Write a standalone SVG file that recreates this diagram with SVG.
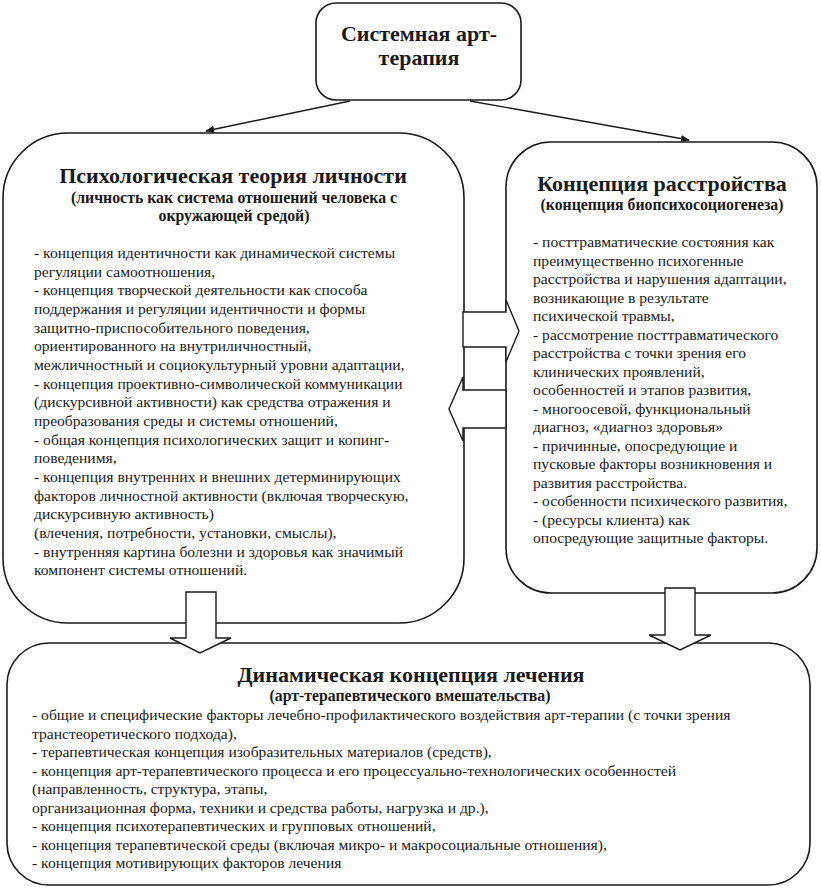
<svg xmlns="http://www.w3.org/2000/svg" width="821" height="892" viewBox="0 0 821 892">
<style>
.box{fill:#fff;stroke:#1a1a1a;stroke-width:1.6}
.blk{fill:#fff;stroke:#1a1a1a;stroke-width:1.4;stroke-linejoin:miter}
.ln{stroke:#1a1a1a;stroke-width:1.4;fill:none}
.t{font-family:"Liberation Serif","Times New Roman","DejaVu Serif",serif;fill:#1a1a1a}
.h{font-size:22px;font-weight:bold;text-anchor:middle}
.s{font-size:15.8px;font-weight:bold;text-anchor:middle}
.b{font-size:15.6px}
</style>
<defs>
<marker id="ah" viewBox="0 0 10 10" refX="9" refY="5" markerWidth="9" markerHeight="9" markerUnits="userSpaceOnUse" orient="auto">
<path d="M0,1 L10,5 L0,9 Z" fill="#1a1a1a"/>
</marker>
</defs>
<rect width="821" height="892" fill="#fff"/>

<g id="node-top">
<rect class="box" x="316" y="3" width="205" height="97" rx="20"/>
<text class="t h" x="419" y="41">Системная арт-</text>
<text class="t h" x="419" y="65">терапия</text>
</g>

<g id="node-left">
<rect class="box" x="3" y="133" width="461" height="490" rx="65"/>
<text class="t h" x="233" y="183">Психологическая теория личности</text>
<text class="t s" x="234" y="203">(личность как система отношений человека с</text>
<text class="t s" x="234" y="221">окружающей средой)</text>
<text class="t b">
<tspan x="34" y="258">- концепция идентичности как динамической системы</tspan>
<tspan x="34" y="276.6">регуляции самоотношения,</tspan>
<tspan x="34" y="295.3">- концепция творческой деятельности как способа</tspan>
<tspan x="34" y="314">поддержания и регуляции идентичности и формы</tspan>
<tspan x="34" y="332.6">защитно-приспособительного поведения,</tspan>
<tspan x="34" y="351.3">ориентированного на внутриличностный,</tspan>
<tspan x="34" y="370">межличностный и социокультурный уровни адаптации,</tspan>
<tspan x="34" y="388.6">- концепция проективно-символической коммуникации</tspan>
<tspan x="34" y="407.3">(дискурсивной активности) как средства отражения и</tspan>
<tspan x="34" y="426">преобразования среды и системы отношений,</tspan>
<tspan x="34" y="444.6">- общая концепция психологических защит и копинг-</tspan>
<tspan x="34" y="463.3">поведенимя,</tspan>
<tspan x="34" y="482">- концепция внутренних и внешних детерминирующих</tspan>
<tspan x="34" y="500.6">факторов личностной активности (включая творческую,</tspan>
<tspan x="34" y="519.3">дискурсивную активность)</tspan>
<tspan x="34" y="538">(влечения, потребности, установки, смыслы),</tspan>
<tspan x="34" y="556.6">- внутренняя картина болезни и здоровья как значимый</tspan>
<tspan x="34" y="575.3">компонент системы отношений.</tspan>
</text>
</g>

<g id="node-right">
<rect class="box" x="506" y="142" width="311" height="451" rx="45"/>
<text class="t h" x="662" y="191">Концепция расстройства</text>
<text class="t s" x="662" y="210">(концепция биопсихосоциогенеза)</text>
<text class="t b">
<tspan x="533" y="247">- посттравматические состояния как</tspan>
<tspan x="533" y="265.5">преимущественно психогенные</tspan>
<tspan x="533" y="284">расстройства и нарушения адаптации,</tspan>
<tspan x="533" y="302.5">возникающие в результате</tspan>
<tspan x="533" y="321">психической травмы,</tspan>
<tspan x="533" y="339.5"> - рассмотрение посттравматического</tspan>
<tspan x="533" y="358">расстройства с точки зрения его</tspan>
<tspan x="533" y="376.5">клинических проявлений,</tspan>
<tspan x="533" y="395">особенностей и этапов развития,</tspan>
<tspan x="533" y="413.5">- многоосевой, функциональный</tspan>
<tspan x="533" y="432">диагноз, «диагноз здоровья»</tspan>
<tspan x="533" y="450.5">- причинные, опосредующие и</tspan>
<tspan x="533" y="469">пусковые факторы возникновения и</tspan>
<tspan x="533" y="487.5">развития расстройства.</tspan>
<tspan x="533" y="506">- особенности психического развития,</tspan>
<tspan x="533" y="524.5">- (ресурсы клиента) как</tspan>
<tspan x="533" y="543">опосредующие защитные факторы.</tspan>
</text>
</g>

<g id="node-bottom">
<rect class="box" x="7" y="643" width="803" height="242" rx="42"/>
<text class="t h" x="411" y="682">Динамическая концепция лечения</text>
<text class="t s" x="410" y="701">(арт-терапевтического вмешательства)</text>
<text class="t b">
<tspan x="32" y="720">- общие и специфические факторы лечебно-профилактического воздействия арт-терапии (с точки зрения</tspan>
<tspan x="32" y="738.5">транстеоретического подхода),</tspan>
<tspan x="32" y="757">- терапевтическая концепция изобразительных материалов (средств),</tspan>
<tspan x="32" y="775.5">- концепция арт-терапевтического процесса и его  процессуально-технологических особенностей</tspan>
<tspan x="32" y="794">(направленность, структура, этапы,</tspan>
<tspan x="32" y="812.5">организационная форма, техники и средства работы, нагрузка и др.),</tspan>
<tspan x="32" y="831">- концепция психотерапевтических и групповых отношений,</tspan>
<tspan x="32" y="849.5">- концепция терапевтической среды (включая микро- и макросоциальные отношения),</tspan>
<tspan x="32" y="868">- концепция мотивирующих факторов лечения</tspan>
</text>
</g>

<g id="connectors">
<line class="ln" x1="350" y1="101" x2="206" y2="131" marker-end="url(#ah)"/>
<line class="ln" x1="470" y1="101" x2="689" y2="140" marker-end="url(#ah)"/>
<polygon class="blk" points="463,312 506,312 506,300 519,331 506,362 506,347 463,347"/>
<polygon class="blk" points="506,390 463,390 463,377 449,409 463,441 463,428 506,428"/>
<polygon class="blk" points="186,592 216,592 216,638 231,638 200,653 170,638 186,638"/>
<polygon class="blk" points="665,588 695,588 695,635 711,635 680,650 649,635 665,635"/>
</g>
</svg>
